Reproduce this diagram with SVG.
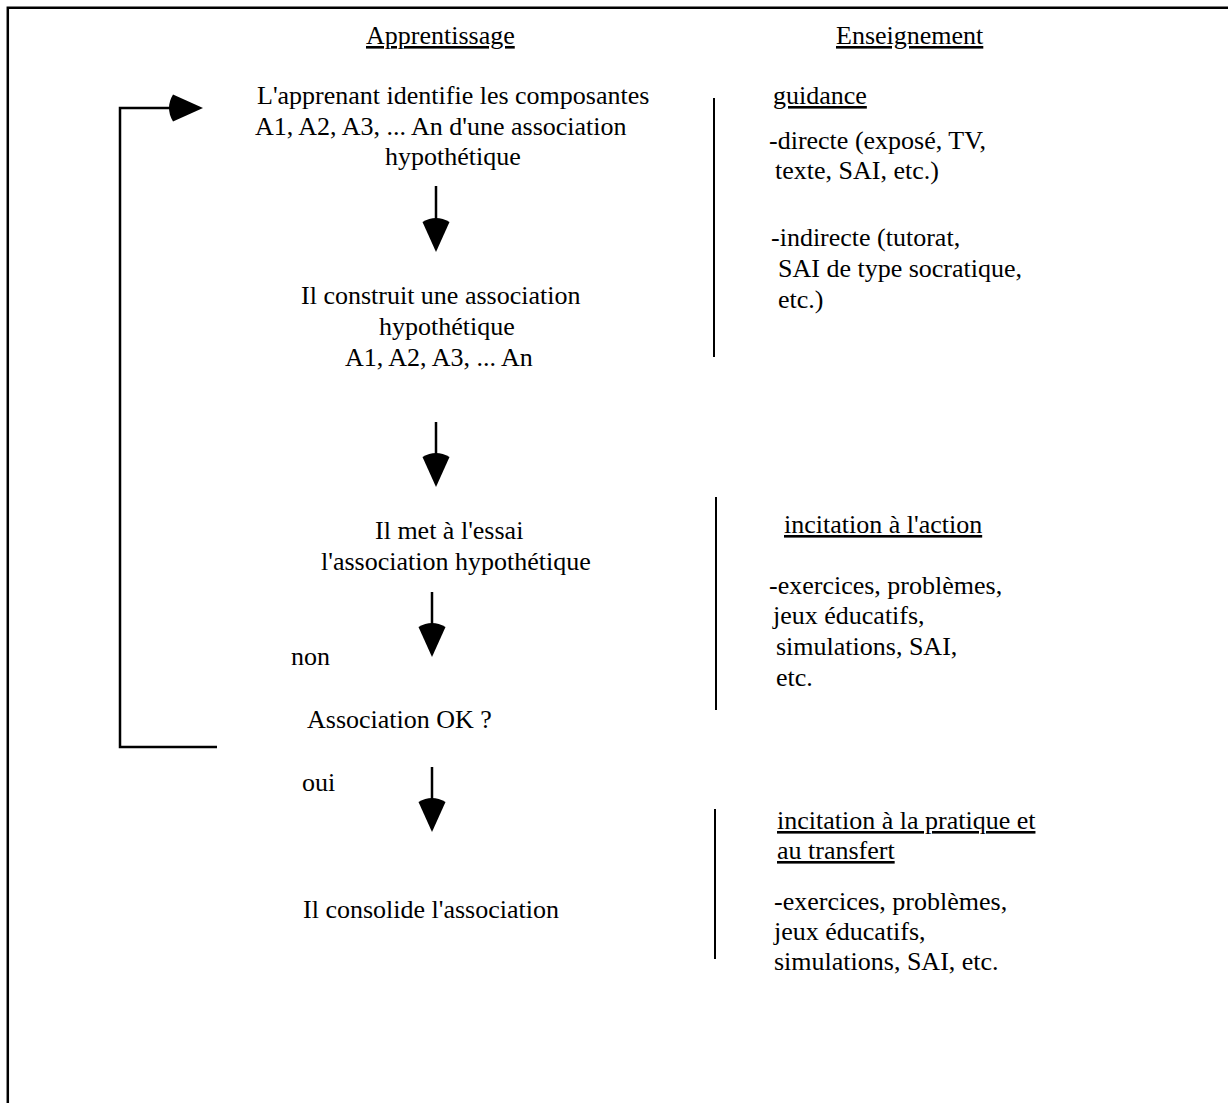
<svg xmlns="http://www.w3.org/2000/svg" width="1228" height="1103" viewBox="0 0 1228 1103">
<style>
text{font-family:"Liberation Serif","Times New Roman",serif;font-size:26px;fill:#000}
.u{text-decoration:underline}
.ln{stroke:#000;stroke-width:2.5;fill:none}
.bar{stroke:#000;stroke-width:2;fill:none}
</style>
<defs>
<marker id="ah" markerUnits="userSpaceOnUse" viewBox="-4 0 38 28" refX="2" refY="14" markerWidth="38" markerHeight="28" orient="auto">
<path d="M34,14 L4,27.5 Q-4,14 4,0.5 Z" fill="#000"/>
</marker>
</defs>
<rect width="1228" height="1103" fill="#fff"/>
<g id="frame">
<path class="ln" d="M7.8,1103 V7.7 H1228" stroke-width="2"/>
</g>
<g id="headers">
<text x="366" y="44" class="u">Apprentissage</text>
<text x="836" y="44" class="u">Enseignement</text>
</g>
<g id="node-identifie">
<text x="257" y="104">L'apprenant identifie les composantes</text>
<text x="255" y="135">A1, A2, A3, ... An d'une association</text>
<text x="385" y="165">hypothétique</text>
</g>
<g id="node-construit">
<text x="301" y="304">Il construit une association</text>
<text x="379" y="335">hypothétique</text>
<text x="345" y="366">A1, A2, A3, ... An</text>
</g>
<g id="node-essai">
<text x="375" y="539">Il met à l'essai</text>
<text x="321" y="570">l'association hypothétique</text>
</g>
<g id="node-decision">
<text x="307" y="728">Association OK ?</text>
</g>
<g id="node-consolide">
<text x="303" y="918">Il consolide l'association</text>
</g>
<g id="labels">
<text x="291" y="665">non</text>
<text x="302" y="791">oui</text>
</g>
<g id="connectors">
<path class="ln" d="M217,747 H120 V108 H171" marker-end="url(#ah)"/>
<path class="ln" d="M436,186 V220" marker-end="url(#ah)"/>
<path class="ln" d="M436,422 V455" marker-end="url(#ah)"/>
<path class="ln" d="M432,592 V625" marker-end="url(#ah)"/>
<path class="ln" d="M432,767 V800" marker-end="url(#ah)"/>
</g>
<g id="brackets">
<path class="bar" d="M714,98 V357"/>
<path class="bar" d="M716,497 V710"/>
<path class="bar" d="M715,809 V959"/>
</g>
<g id="ens-guidance">
<text x="773" y="104" class="u">guidance</text>
<text x="769" y="149">-directe (exposé, TV,</text>
<text x="775" y="179">texte, SAI, etc.)</text>
<text x="771" y="246">-indirecte (tutorat,</text>
<text x="778" y="277">SAI de type socratique,</text>
<text x="778" y="308">etc.)</text>
</g>
<g id="ens-action">
<text x="784" y="533" class="u">incitation à l'action</text>
<text x="769" y="594">-exercices, problèmes,</text>
<text x="773" y="624">jeux éducatifs,</text>
<text x="776" y="655">simulations, SAI,</text>
<text x="776" y="686">etc.</text>
</g>
<g id="ens-pratique">
<text x="777" y="829" class="u">incitation à la pratique et</text>
<text x="777" y="859" class="u">au transfert</text>
<text x="774" y="910">-exercices, problèmes,</text>
<text x="774" y="940">jeux éducatifs,</text>
<text x="774" y="970">simulations, SAI, etc.</text>
</g>
</svg>
